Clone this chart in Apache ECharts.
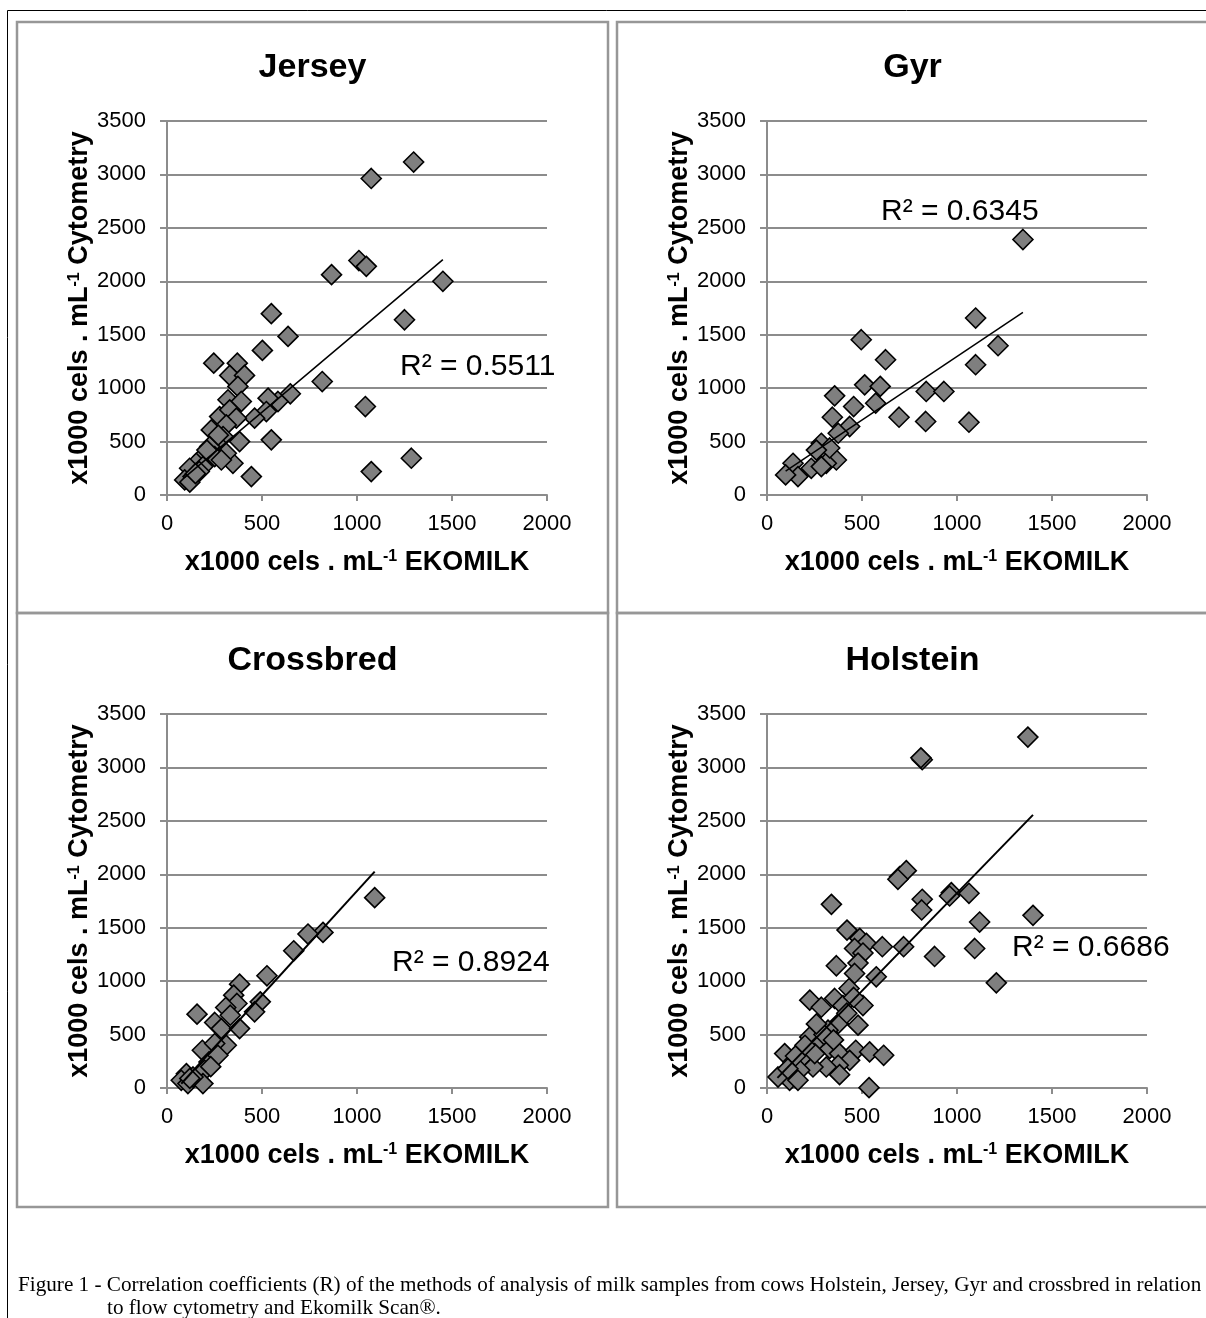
<!DOCTYPE html>
<html>
<head>
<meta charset="utf-8">
<script src="https://cdn.jsdelivr.net/npm/echarts@6/dist/echarts.min.js"></script>
<style>
  html, body { margin: 0; padding: 0; background: #fff; }
  #main { width: 1206px; height: 1318px; }
</style>
</head>
<body>
<div id="main"></div>
<script>
// panel titles and R² labels
const breeds = ['Jersey', 'Gyr', 'Crossbred', 'Holstein'];
const r2Labels = ['R² = 0.5511', 'R² = 0.6345', 'R² = 0.8924', 'R² = 0.6686'];
const xTicks = [0, 2000, 500];   // min, max, interval
const yTicks = [0, 3500, 500];

// x = EKOMILK, y = cytometry (x1000 cels / mL)
const jerseyPoints = [
  [1298,3116],[1075,2962],[1010,2194],[1049,2140],[866,2062],[1452,2000],[1250,1640],
  [549,1697],[637,1484],[502,1353],[246,1234],[370,1234],[330,1119],[408,1119],[373,1016],
  [817,1062],[1044,828],[649,947],[584,875],[532,906],[321,891],[391,875],[523,781],
  [461,719],[277,734],[330,797],[365,719],[312,656],[233,609],[549,516],[382,500],
  [295,547],[260,484],[347,297],[444,172],[1075,219],[1286,344],[312,391],[225,453],
  [189,359],[154,297],[119,250],[93,141],[137,172],[189,266],[251,359],[286,328],
  [210,420],[270,560],[170,220],[120,120],[150,200]
];
const gyrPoints = [
  [1347,2391],[1098,1656],[1216,1397],[1098,1219],[496,1453],[624,1266],[514,1031],
  [596,1016],[838,969],[931,969],[356,928],[456,828],[572,859],[695,728],[835,688],
  [1063,681],[344,728],[435,641],[375,578],[286,484],[277,391],[365,328],[312,297],
  [233,250],[286,266],[137,297],[163,172],[98,188],[330,440],[260,420]
];
const crossbredPoints = [
  [1093,1781],[821,1456],[742,1441],[667,1284],[526,1050],[382,972],[351,869],[491,806],
  [368,791],[309,753],[461,713],[333,681],[158,691],[251,613],[286,556],[382,556],
  [312,400],[186,353],[251,416],[221,244],[268,306],[198,166],[102,134],[75,72],
  [110,41],[189,41],[137,103],[120,90],[230,200]
];
const holsteinPoints = [
  [1373,3284],[817,3072],[810,3090],[698,1978],[733,2034],[689,1953],[970,1828],[961,1797],
  [1063,1822],[817,1766],[814,1666],[339,1719],[1400,1616],[1119,1553],[421,1478],
  [488,1400],[523,1353],[607,1322],[719,1322],[461,1306],[1093,1306],[882,1231],
  [505,1263],[365,1144],[479,1169],[461,1072],[575,1041],[1207,984],[432,931],[356,838],
  [225,822],[286,756],[400,772],[505,772],[456,847],[375,603],[479,588],[321,541],
  [225,478],[277,416],[330,369],[382,322],[467,353],[540,338],[614,306],[435,259],
  [375,213],[312,197],[93,322],[137,244],[189,291],[242,197],[172,166],[84,134],
  [119,72],[163,72],[537,3],[382,125],[251,322],[58,103],[300,500],[260,600],[200,400],
  [150,300],[110,180],[420,700],[350,450]
];
// linear trendlines (start, end)
const jerseyTrend = [[90,160],[1452,2203]];
const gyrTrend = [[98,224],[1347,1709]];
const crossbredTrend = [[75,40],[1093,2025]];
const holsteinTrend = [[55,95],[1400,2556]];

const allPoints = [jerseyPoints, gyrPoints, crossbredPoints, holsteinPoints];
const allTrends = [jerseyTrend, gyrTrend, crossbredTrend, holsteinTrend];

// layout
const panelLeft = [17, 617, 17, 617];
const panelTop = [22, 22, 613, 613];
const panelW = 591;
const panelH = [591, 591, 594, 594];
const gridLeft = [167, 767, 167, 767];
const gridTop = [121, 121, 714, 714];
const gridW = 380, gridH = 374;
const r2Pos = [[400, 367], [881, 212], [392, 963], [1012, 948]];

const FONT = '"Liberation Sans", Arial, sans-serif';
const SERIF = '"Liberation Serif", "Times New Roman", serif';
const gray = '#8c8c8c';

const nameRich = {
  m: { fontSize: 27, fontWeight: 'bold', fontFamily: FONT, color: '#000', lineHeight: 27 },
  sup: { fontSize: 16, fontWeight: 'bold', fontFamily: FONT, color: '#000', verticalAlign: 'top', lineHeight: 16 }
};

const grids = [], xAxes = [], yAxes = [], series = [], graphics = [];

// outer frame
graphics.push({
  type: 'polyline', shape: { points: [[7.5, 1318], [7.5, 10.5], [1206, 10.5]] },
  style: { stroke: '#000', lineWidth: 1, fill: null }, silent: true
});

for (let i = 0; i < 4; i++) {
  graphics.push({
    type: 'rect',
    shape: { x: panelLeft[i], y: panelTop[i], width: panelW, height: panelH[i] },
    style: { stroke: '#979797', lineWidth: 2.5, fill: null }, silent: true, z: -1
  });
  graphics.push({
    type: 'text', x: panelLeft[i] + panelW / 2, y: gridTop[i] - 53,
    style: { text: breeds[i], font: 'bold 34px ' + FONT, fill: '#000',
             textAlign: 'center', textVerticalAlign: 'middle' }, silent: true
  });
  graphics.push({
    type: 'text', x: r2Pos[i][0], y: r2Pos[i][1],
    style: { text: r2Labels[i], font: '30px ' + FONT, fill: '#000',
             textAlign: 'left', textVerticalAlign: 'middle' }, silent: true, z: 100
  });

  grids.push({ left: gridLeft[i], top: gridTop[i], width: gridW, height: gridH });
  xAxes.push({
    type: 'value', gridIndex: i, min: xTicks[0], max: xTicks[1], interval: xTicks[2],
    name: '{m|x1000 cels . mL}{sup|-1}{m| EKOMILK}', nameLocation: 'middle', nameGap: 54,
    nameTextStyle: { rich: nameRich },
    axisLine: { show: true, lineStyle: { color: gray, width: 2 } },
    axisTick: { show: true, length: 6, lineStyle: { color: gray, width: 2 } },
    axisLabel: { fontSize: 22, fontFamily: FONT, color: '#000', margin: 18,
                 formatter: v => String(v) },
    splitLine: { show: false }
  });
  yAxes.push({
    type: 'value', gridIndex: i, min: yTicks[0], max: yTicks[1], interval: yTicks[2],
    name: '{m|x1000 cels . mL}{sup|-1}{m| Cytometry}', nameLocation: 'middle', nameGap: 73,
    nameTextStyle: { rich: nameRich },
    axisLine: { show: true, lineStyle: { color: gray, width: 2 } },
    axisTick: { show: true, length: 7, lineStyle: { color: gray, width: 2 } },
    axisLabel: { fontSize: 22, fontFamily: FONT, color: '#000', margin: 21,
                 formatter: v => String(v) },
    splitLine: { show: true, lineStyle: { color: gray, width: 2 } }
  });
  series.push({
    type: 'scatter', xAxisIndex: i, yAxisIndex: i, data: allPoints[i],
    symbol: 'diamond', symbolSize: 20, silent: true,
    itemStyle: { color: '#7f7f7f', borderColor: '#000', borderWidth: 1.6, opacity: 1 }
  });
  series.push({
    type: 'line', xAxisIndex: i, yAxisIndex: i, data: allTrends[i],
    symbol: 'none', silent: true, z: 5,
    lineStyle: { color: '#000', width: i < 2 ? 1.5 : 2 }
  });
}

// caption
graphics.push({
  type: 'text', x: 18, y: 1285,
  style: { text: 'Figure 1 - Correlation coefficients (R) of the methods of analysis of milk samples from cows Holstein, Jersey, Gyr and crossbred in relation',
           font: '21.2px ' + SERIF, fill: '#000',
           textAlign: 'left', textVerticalAlign: 'middle' }, silent: true
});
graphics.push({
  type: 'text', x: 107, y: 1308,
  style: { text: 'to flow cytometry and Ekomilk Scan®.',
           font: '21.2px ' + SERIF, fill: '#000',
           textAlign: 'left', textVerticalAlign: 'middle' }, silent: true
});

const chart = echarts.init(document.getElementById('main'), null, { renderer: 'canvas' });
chart.setOption({
  animation: false,
  backgroundColor: '#fff',
  grid: grids,
  xAxis: xAxes,
  yAxis: yAxes,
  series: series,
  graphic: graphics
});
</script>
</body>
</html>
